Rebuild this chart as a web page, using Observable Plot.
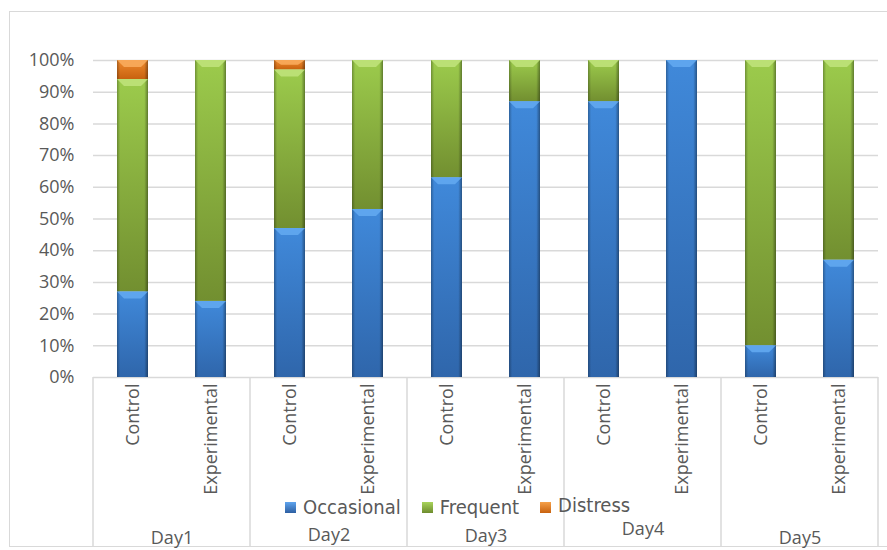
<!DOCTYPE html>
<html>
<head>
<meta charset="utf-8">
<script src="https://cdn.jsdelivr.net/npm/d3@7"></script>
<script src="https://cdn.jsdelivr.net/npm/@observablehq/plot@0.6"></script>
<style>
  html, body { margin: 0; padding: 0; background: #fff; }
  #wrap { position: relative; width: 887px; height: 550px; overflow: hidden; }
  #frame {
    position: absolute; left: 9px; top: 11px; width: 900px; height: 536px;
    border: 1.5px solid #d9d9d9; border-right: none; box-sizing: border-box;
  }
  #chart { position: absolute; left: 0; top: 0; }
  #legend {
    position: absolute; left: 285px; top: 495px; display: flex; align-items: center;
    font-family: "Liberation Sans Narrow", "DejaVu Sans Condensed", "Arial Narrow", sans-serif;
    font-size: 20px; color: #595959; white-space: nowrap;
  }
  #legend .item { display: flex; align-items: center; margin-right: 21px; }
  #legend .sw { width: 11px; height: 11px; margin-right: 7px; box-sizing: border-box; }
</style>
</head>
<body>
<svg width="0" height="0" style="position:absolute">
  <defs>
    <linearGradient id="gOcc" x1="0" y1="0" x2="0" y2="1">
      <stop offset="0" stop-color="#4089da"/>
      <stop offset="1" stop-color="#2f66ab"/>
    </linearGradient>
    <linearGradient id="gFreq" x1="0" y1="0" x2="0" y2="1">
      <stop offset="0" stop-color="#9ccb4c"/>
      <stop offset="1" stop-color="#728f30"/>
    </linearGradient>
    <linearGradient id="gDis" x1="0" y1="0" x2="0" y2="1">
      <stop offset="0" stop-color="#ee8a2e"/>
      <stop offset="1" stop-color="#c8620f"/>
    </linearGradient>
    <linearGradient id="edgeShade" x1="0" y1="0" x2="1" y2="0">
      <stop offset="0" stop-color="#000" stop-opacity="0.28"/>
      <stop offset="0.1" stop-color="#000" stop-opacity="0"/>
      <stop offset="0.88" stop-color="#000" stop-opacity="0"/>
      <stop offset="1" stop-color="#000" stop-opacity="0.38"/>
    </linearGradient>
  </defs>
</svg>
<div id="wrap">
  <div id="frame"></div>
  <div id="chart"></div>
  <div id="legend"></div>
</div>
<script>
// Categories
const days = ["Day1", "Day2", "Day3", "Day4", "Day5"];
const groups = ["Control", "Experimental"];
const levels = ["Occasional", "Frequent", "Distress"];

// Share of each level (%), one entry per day × group (Control, Experimental)
const occasional = [27, 24, 47, 53, 63, 87, 87, 100, 10, 37];
const frequent   = [67, 76, 50, 47, 37, 13, 13,   0, 90, 63];
const distress   = [ 6,  0,  3,  0,  0,  0,  0,   0,  0,  0];

// Y tick values (%)
const yTicks = [0, 10, 20, 30, 40, 50, 60, 70, 80, 90, 100];

// Long-format table for the stacked bars
const seriesByLevel = { Occasional: occasional, Frequent: frequent, Distress: distress };
const rows = [];
days.forEach((day, i) => {
  groups.forEach((group, j) => {
    levels.forEach(level => {
      rows.push({ day, group, level, value: seriesByLevel[level][i * 2 + j] });
    });
  });
});

const fills = { Occasional: "url(#gOcc)", Frequent: "url(#gFreq)", Distress: "url(#gDis)" };
const bevel = { "url(#gOcc)": "#62a8f0", "url(#gFreq)": "#bfe27a", "url(#gDis)": "#f8ab5c" };
const swatch = {
  Occasional: "linear-gradient(#5fa4ee, #2d5fa2)",
  Frequent: "linear-gradient(#a9d45c, #6e8c2e)",
  Distress: "linear-gradient(#f5a049, #c8620f)"
};

const W = 887, H = 550;
const mL = 92, mR = 9, mT = 60, mB = 173;
const textColor = "#595959";

// Bevelled look: darker side edges and a light wedge on top of each segment
function bevelRender(index, scales, values, dimensions, context, next) {
  const g = next(index, scales, values, dimensions, context);
  const rects = Array.from(g.querySelectorAll("rect"));
  rects.forEach(r => {
    const x = +r.getAttribute("x"), y = +r.getAttribute("y");
    const w = +r.getAttribute("width"), h = +r.getAttribute("height");
    if (!(h > 0.5)) return;
    const fill = r.getAttribute("fill");
    const ns = "http://www.w3.org/2000/svg";
    const edge = document.createElementNS(ns, "rect");
    edge.setAttribute("x", x); edge.setAttribute("y", y);
    edge.setAttribute("width", w); edge.setAttribute("height", h);
    edge.setAttribute("fill", "url(#edgeShade)");
    g.appendChild(edge);
    const bh = Math.min(7, h / 2), inset = Math.min(7, w / 3);
    const poly = document.createElementNS(ns, "polygon");
    poly.setAttribute("points",
      `${x},${y} ${x + w},${y} ${x + w - inset},${y + bh} ${x + inset},${y + bh}`);
    poly.setAttribute("fill", bevel[fill] || "#fff");
    poly.setAttribute("fill-opacity", "0.9");
    g.appendChild(poly);
  });
  return g;
}

// Day label vertical drops below the frame
const dayDrop = { Day1: 161, Day2: 158, Day3: 159, Day4: 152, Day5: 161 };

const chart = Plot.plot({
  width: W,
  height: H,
  marginLeft: mL,
  marginRight: mR,
  marginTop: mT,
  marginBottom: mB,
  style: { fontFamily: "Open Sans, sans-serif", fontSize: "18px", color: textColor, background: "transparent", overflow: "visible" },
  fx: { domain: days, padding: 0, axis: null },
  x: { domain: groups, paddingInner: 0.605, paddingOuter: 0.3025, axis: null },
  y: { domain: [0, 100], axis: null },
  color: { domain: levels, range: levels.map(l => fills[l]) },
  marks: [
    Plot.gridY(yTicks, { stroke: "#d9d9d9", strokeOpacity: 1, strokeWidth: 1.5 }),
    Plot.axisY(yTicks, {
      tickSize: 0, tickPadding: 19, fontSize: 18, fill: textColor,
      tickFormat: d => d + "%", label: null
    }),
    Plot.axisX({
      tickSize: 0, tickPadding: 6, tickRotate: -90, fontSize: 18, fill: textColor, label: null
    }),
    Plot.barY(rows, {
      fx: "day", x: "group", y: "value", fill: "level",
      order: levels, render: bevelRender
    }),
    ...days.map(day => Plot.text([day], {
      fx: d => d, text: d => d, frameAnchor: "bottom", dy: dayDrop[day],
      fontSize: 18, fill: textColor, lineAnchor: "middle"
    }))
  ]
});
document.getElementById("chart").appendChild(chart);

// Category dividers below the plot frame, at the edges of each day band
const fx = chart.scale("fx");
const edges = new Set();
days.forEach(d => { const x0 = fx.apply(d); edges.add(x0); edges.add(x0 + fx.bandwidth); });
const svg = d3.select(chart);
svg.insert("g", ":first-child")
  .selectAll("line")
  .data(Array.from(edges))
  .join("line")
  .attr("x1", d => d).attr("x2", d => d)
  .attr("y1", H - mB).attr("y2", H - 4)
  .attr("stroke", "#d9d9d9").attr("stroke-width", 1.5);

// Legend
const legend = d3.select("#legend");
levels.forEach(level => {
  const item = legend.append("div").attr("class", "item");
  item.append("div").attr("class", "sw").style("background", swatch[level]);
  item.append("span").text(level).style("position", "relative")
    .style("top", level === "Distress" ? "-2px" : "0px");
});
</script>
</body>
</html>
